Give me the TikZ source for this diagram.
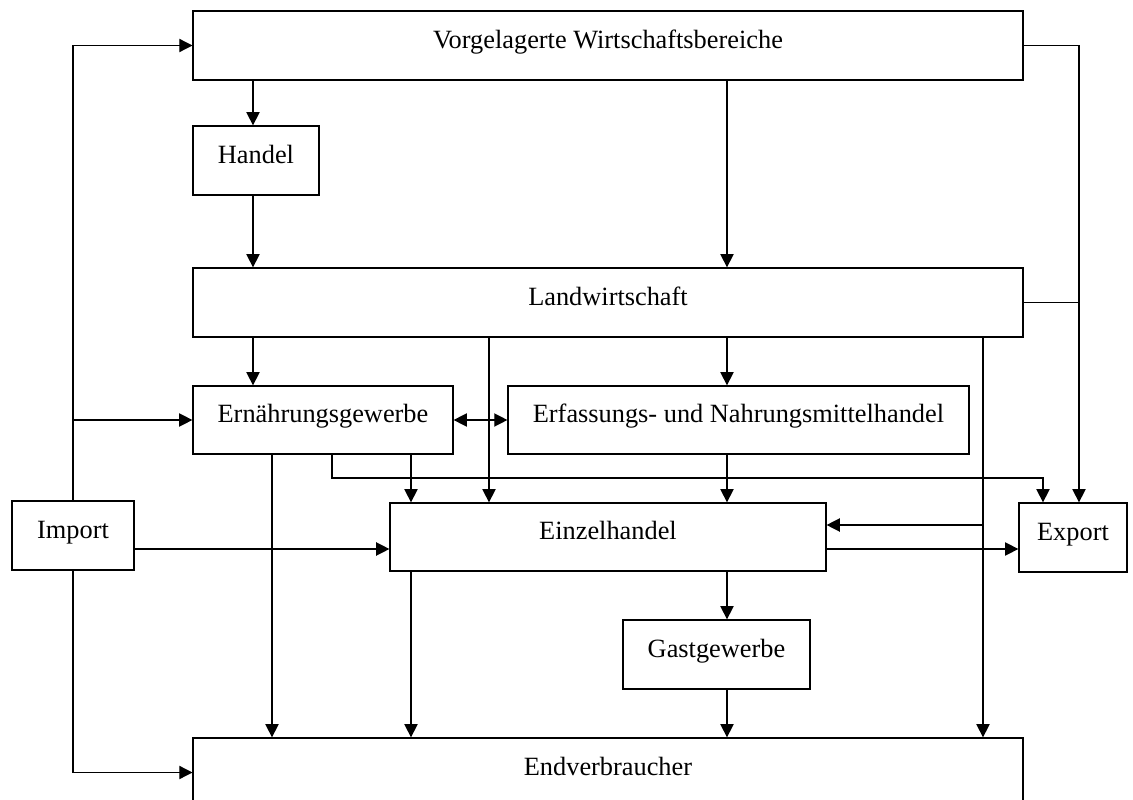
\documentclass[tikz,border=0pt]{standalone}
\usepackage{fontspec}
\setmainfont{Liberation Serif}
\usetikzlibrary{arrows.meta}

\begin{document}
\begin{tikzpicture}[x=0.016cm,y=-0.016cm,
        box/.style={draw,line width=0.6pt,inner sep=0pt,minimum height=1.104cm,
                    text height=8.7pt,text depth=6pt,font=\fontsize{12}{14}\selectfont},
        flow/.style={line width=0.6pt,-{Triangle[length=6pt,width=6pt]}},
        both/.style={line width=0.6pt,{Triangle[length=6pt,width=6pt]}-{Triangle[length=6pt,width=6pt]}}]
                \useasboundingbox (0,0) rectangle (1133,800);
                \node[box,minimum width=13.28cm] (vorg) at (608,45.5) {Vorgelagerte Wirtschaftsbereiche};
                \node[box,minimum width=2.016cm] (handel) at (256,160.5) {Handel};
                \node[box,minimum width=13.28cm] (landw) at (608,302.5) {Landwirtschaft};
                \node[box,minimum width=4.16cm,minimum height=1.088cm] (ern) at (323,420) {Ernährungsgewerbe};
                \node[box,minimum width=7.376cm,minimum height=1.088cm] (erf) at (738.5,420) {Erfassungs- und Nahrungsmittelhandel};
                \node[box,minimum width=1.952cm] (import) at (73,535.5) {Import};
                \node[box,minimum width=6.976cm,minimum height=1.088cm] (einz) at (608,537) {Einzelhandel};
                \node[box,minimum width=1.728cm] (export) at (1073,537.5) {Export};
                \node[box,minimum width=2.992cm] (gast) at (716.5,654.5) {Gastgewerbe};
                \node[box,minimum width=13.28cm] (endv) at (608,772.5) {Endverbraucher};
                \coordinate (c1) at (253,0);
                \coordinate (c2) at (272,0);
                \coordinate (c3) at (332,0);
                \coordinate (c4) at (411,0);
                \coordinate (c5) at (489,0);
                \coordinate (c6) at (727,0);
                \coordinate (c7) at (983,0);
                \coordinate (c8) at (1043,0);
                \coordinate (c9) at (1079,0);
                \coordinate (r4) at (0,478);
                \coordinate (r5) at (0,525);
                \coordinate (r6) at (0,549);
                \draw[flow] (import.north) |- (vorg.west);
                \draw[flow] (import.north) |- (ern.west);
                \draw[flow] (import.south) |- (endv.west);
                \draw[flow] (import.east |- r6) -- (einz.west |- r6);
                \draw[flow] (vorg.south -| c1) -- (handel.north -| c1);
                \draw[flow] (handel.south -| c1) -- (landw.north -| c1);
                \draw[flow] (vorg.south -| c6) -- (landw.north -| c6);
                \draw[flow] (vorg.east) -| (export.north -| c9);
                \draw[line width=0.6pt] (landw.east) -- (landw.east -| c9);
                \draw[flow] (landw.south -| c1) -- (ern.north -| c1);
                \draw[flow] (landw.south -| c5) -- (einz.north -| c5);
                \draw[flow] (landw.south -| c6) -- (erf.north -| c6);
                \draw[flow] (landw.south -| c7) -- (endv.north -| c7);
                \draw[flow] (c7 |- r5) -- (einz.east |- r5);
                \draw[both] (ern.east) -- (erf.west);
                \draw[flow] (ern.south -| c2) -- (endv.north -| c2);
                \draw[flow] (ern.south -| c3) |- (c8 |- r4) -- (export.north -| c8);
                \draw[flow] (ern.south -| c4) -- (einz.north -| c4);
                \draw[flow] (erf.south -| c6) -- (einz.north -| c6);
                \draw[flow] (einz.east |- r6) -- (export.west |- r6);
                \draw[flow] (einz.south -| c6) -- (gast.north -| c6);
                \draw[flow] (einz.south -| c4) -- (endv.north -| c4);
                \draw[flow] (gast.south -| c6) -- (endv.north -| c6);
            \end{tikzpicture}
\end{document}
